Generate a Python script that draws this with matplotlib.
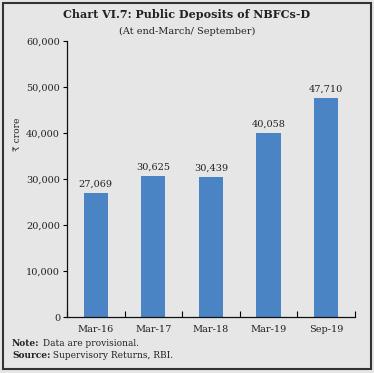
import matplotlib
matplotlib.use("Agg")
import matplotlib.pyplot as plt
from matplotlib.patches import Rectangle

categories = ["Mar-16", "Mar-17", "Mar-18", "Mar-19", "Sep-19"]
values = [27069, 30625, 30439, 40058, 47710]
yticks = [0, 10000, 20000, 30000, 40000, 50000, 60000]

plt.rcParams['font.family'] = ['DejaVu Serif', 'DejaVu Sans']
bg = "#e6e6e6"
fig = plt.figure(figsize=(3.74, 3.73), dpi=100, facecolor=bg)
ax = fig.add_axes([0.179, 0.150, 0.770, 0.740], facecolor=bg)

x = list(range(len(categories)))
ax.bar(x, values, width=0.42, color="#4a84c4", zorder=2)
for xi, v in zip(x, values):
    ax.text(xi, v + 900, f"{v:,}", ha="center", va="bottom", fontsize=7, color="#222222")

ax.set_xlim(-0.5, len(categories) - 0.5)
ax.set_ylim(0, 60000)
ax.set_yticks(yticks)
ax.set_yticklabels([f"{t:,}" for t in yticks], fontsize=7, color="#222222")
ax.set_xticks(x)
ax.set_xticklabels(categories, fontsize=7, color="#222222")
ax.tick_params(axis="x", length=0, pad=6)
ax.set_xticks([i + 0.5 for i in range(-1, len(categories))], minor=True)
ax.tick_params(axis="x", which="minor", direction="in", length=4, width=0.8)
ax.tick_params(axis="y", direction="out", length=3, width=0.8, pad=2)
for s in ["top", "right"]:
    ax.spines[s].set_visible(False)
for s in ["left", "bottom"]:
    ax.spines[s].set_linewidth(0.9)
    ax.spines[s].set_color("#111111")

fig.text(0.5, 0.960, "Chart VI.7: Public Deposits of NBFCs-D", ha="center", va="center",
         fontsize=8, fontweight="bold", color="#222222")
fig.text(0.5, 0.916, "(At end-March/ September)", ha="center", va="center",
         fontsize=7, color="#222222")
fig.text(0.046, 0.64, "₹ crore", rotation=90, ha="center", va="center", fontsize=6.5, color="#222222")

renderer = fig.canvas.get_renderer()
for yy, head, rest in [(0.080, "Note:", " Data are provisional."),
                       (0.048, "Source:", " Supervisory Returns, RBI.")]:
    t = fig.text(0.032, yy, head, fontsize=6.5, fontweight="bold", color="#222222", va="center")
    bb = t.get_window_extent(renderer=renderer)
    x1 = bb.x1 / fig.bbox.width
    fig.text(x1, yy, rest, fontsize=6.5, color="#222222", va="center")

fig.patches.append(Rectangle((0.008, 0.010), 0.984, 0.982, transform=fig.transFigure,
                             fill=False, edgecolor="#333333", linewidth=1.5))

fig.savefig("out.png", dpi=100, facecolor=bg)
